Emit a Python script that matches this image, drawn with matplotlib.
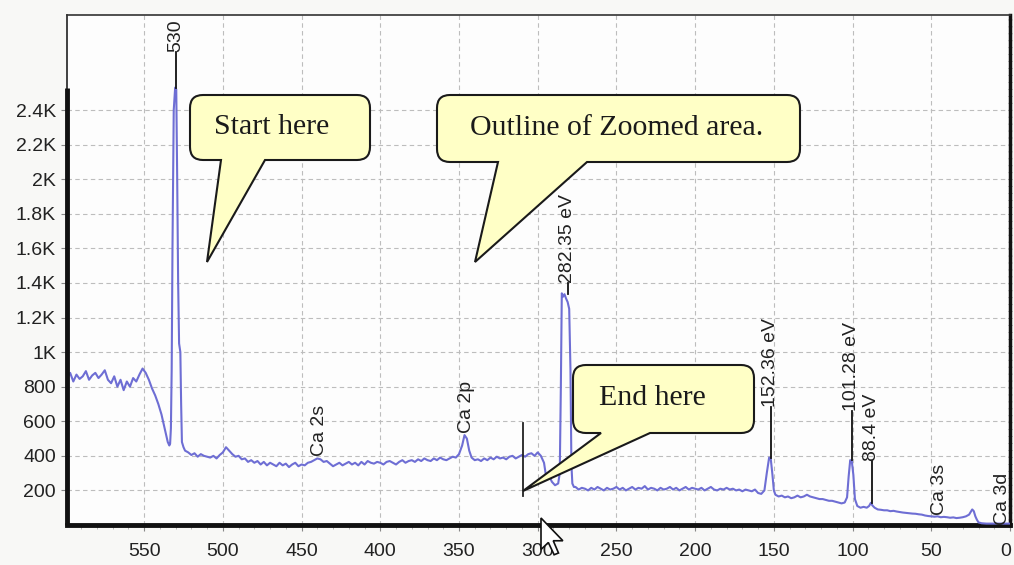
import matplotlib
matplotlib.use("Agg")
import matplotlib.pyplot as plt
from matplotlib.path import Path
from matplotlib.patches import PathPatch, Polygon
from matplotlib.transforms import IdentityTransform, ScaledTranslation

W, H = 1014, 565

# XPS survey spectrum, binding energy (eV) vs counts
energy = [599, 597, 595, 593, 591, 589, 587, 585, 583, 581, 579, 577, 575, 573, 571,
          569, 567, 565, 563, 561, 559, 557, 555, 553, 551, 549, 547, 545, 543, 541,
          539, 537, 536, 535, 534, 533.5, 533, 532.5, 532, 531.2, 530.3, 529.6, 529,
          528.4, 527.8, 527, 526.5, 526, 525, 524, 522, 520, 518, 516, 514, 512, 510,
          508, 506, 504, 502, 500, 498, 496, 494, 492, 490, 488, 486, 484, 482, 480,
          478, 476, 474, 472, 470, 468, 466, 464, 462, 460, 458, 456, 454, 452, 450,
          448, 446, 444, 442, 440, 438, 436, 434, 432, 430, 428, 426, 424, 422, 420,
          418, 416, 414, 412, 410, 408, 406, 404, 402, 400, 398, 396, 394, 392, 390,
          388, 386, 384, 382, 380, 378, 376, 374, 372, 370, 368, 366, 364, 362, 360,
          358, 356, 354, 352, 350, 348, 346.5, 345, 343.5, 342, 340, 338, 336, 334,
          332, 330, 328, 326, 324, 322, 320, 318, 316, 314, 312, 310, 308, 306, 304,
          302, 300, 298, 296, 295, 294, 293, 292, 291, 290, 289, 288, 287, 286, 285.3,
          284.7, 284, 283, 282, 281, 280, 279.2, 278.6, 278, 277, 276, 274, 272, 270,
          268, 266, 264, 262, 260, 258, 256, 254, 252, 250, 248, 246, 244, 242, 240,
          238, 236, 234, 232, 230, 228, 226, 224, 222, 220, 218, 216, 214, 212, 210,
          208, 206, 204, 202, 200, 198, 196, 194, 192, 190, 188, 186, 184, 182, 180,
          178, 176, 174, 172, 170, 168, 166, 164, 162, 160, 158, 156, 154.5, 153, 152,
          151, 150, 149, 147, 145, 143, 141, 139, 137, 135, 133, 131, 129, 127, 125,
          123, 121, 119, 117, 115, 113, 111, 109, 107, 105, 103.5, 102.5, 101.5, 100.5,
          99.5, 98.5, 97, 95, 93, 91, 89.5, 88.4, 87.3, 86, 84, 82, 80, 78, 76, 74, 72,
          70, 68, 66, 64, 62, 60, 58, 56, 54, 52, 50, 48, 46, 44, 42, 40, 38, 36, 34,
          32, 30, 28, 26, 25, 24, 23, 22, 21, 20, 18, 15, 10, 5, 0]
counts = [850, 880, 830, 870, 845, 860, 890, 840, 865, 880, 850, 870, 895, 840, 820,
          860, 800, 840, 780, 830, 800, 850, 830, 870, 905, 880, 840, 790, 750, 700,
          640, 560, 520, 480, 460, 470, 560, 900, 1600, 2400, 2530, 2520, 2000,
          1400, 1050, 1000, 700, 480, 450, 430, 420, 405, 415, 395, 410, 400, 395,
          390, 400, 385, 405, 420, 450, 430, 410, 395, 400, 380, 385, 365, 375, 360,
          370, 350, 365, 345, 360, 350, 340, 360, 345, 355, 335, 350, 360, 340, 350,
          345, 360, 365, 375, 385, 380, 365, 370, 355, 340, 350, 360, 345, 355, 365,
          350, 360, 345, 365, 350, 370, 360, 355, 365, 360, 350, 365, 370, 360, 350,
          365, 375, 360, 370, 375, 365, 380, 370, 385, 375, 370, 385, 375, 390, 380,
          375, 385, 395, 390, 410, 460, 520, 500, 430, 390, 375, 380, 370, 385,
          375, 390, 380, 395, 385, 390, 380, 395, 400, 385, 395, 405, 395, 410, 415,
          400, 420, 400, 360, 300, 280, 300, 270, 250, 240, 230, 235, 240, 300, 800,
          1340, 1320, 1335, 1310, 1290, 1250, 900, 350, 240, 220, 220, 205, 215, 210,
          200, 215, 205, 220, 210, 200, 215, 205, 210, 220, 205, 215, 200, 210, 220,
          205, 215, 210, 225, 205, 215, 210, 200, 215, 205, 210, 220, 205, 215, 200,
          210, 220, 205, 215, 210, 205, 215, 200, 210, 220, 205, 200, 210, 205, 215,
          205, 210, 200, 205, 195, 205, 200, 195, 205, 185, 180, 200, 300, 390, 385,
          300, 200, 175, 165, 170, 160, 165, 155, 160, 170, 160, 165, 175, 165, 160,
          155, 150, 150, 145, 140, 140, 135, 130, 125, 130, 160, 280, 375, 370,
          290, 150, 110, 100, 105, 100, 110, 128, 112, 100, 90, 88, 85, 85, 80, 82, 78,
          75, 72, 70, 68, 66, 65, 62, 60, 55, 52, 50, 48, 50, 45, 47, 45, 42, 44, 40,
          42, 45, 50, 60, 75, 90, 80, 50, 30, 15, 10, 8, 8, 8, 8]

# peak labels: (text, energy, text bottom in counts, top of the stem or None)
peak_labels = [("530", 529.9, 2735, 2525),
               ("282.35 eV", 280.9, 1400, 1335),
               ("Ca 2s", 438.5, 402, None),
               ("Ca 2p", 345.3, 530, None),
               ("152.36 eV", 151.9, 685, 390),
               ("101.28 eV", 100.5, 662, 375),
               ("88.4 eV", 87.8, 370, 128),
               ("Ca 3s", 44.5, 58, None),
               ("Ca 3d", 4.8, 2, None)]

xticks = [550, 500, 450, 400, 350, 300, 250, 200, 150, 100, 50, 0]
yticks = [200, 400, 600, 800, 1000, 1200, 1400, 1600, 1800, 2000, 2200, 2400]
ytick_labels = ["200", "400", "600", "800", "1K", "1.2K", "1.4K", "1.6K",
                "1.8K", "2K", "2.2K", "2.4K"]

fig = plt.figure(figsize=(W / 100, H / 100), dpi=100, facecolor="#f8f8f6")
ax = fig.add_axes([67 / W, 1 - 525 / H, (1010 - 67) / W, (525 - 15) / H])
ax.set_facecolor("#fdfdfd")

ax.plot(energy, counts, color="#6e6ed4", lw=1.5, zorder=3)
ax.set_xlim(599, 0)
ax.set_ylim(0, 2950)

ax.set_xticks(xticks)
ax.set_xticklabels([str(t) for t in xticks])
ax.set_xticks(list(range(590, 0, -10)), minor=True)
ax.set_yticks(yticks)
ax.set_yticklabels(ytick_labels)
ax.tick_params(axis="both", which="major", direction="out", length=4, width=0.8,
               color="#888888", labelsize=14, labelcolor="#222222")
ax.tick_params(axis="x", which="major", pad=9)
ax.tick_params(axis="y", which="major", pad=4)
ax.tick_params(axis="x", which="minor", direction="out", length=3, width=0.6,
               color="#aaaaaa")
for lab in ax.get_xticklabels() + ax.get_yticklabels():
    lab.set_fontfamily("Liberation Sans")
# the last label sits at the picture edge; nudge it inside
last = ax.get_xticklabels()[-1]
last.set_transform(last.get_transform() + ScaledTranslation(-4 / 100, 0, fig.dpi_scale_trans))

ax.grid(True, which="major", color="#bdbdbd", lw=0.8, ls=(0, (4, 3)))

ax.spines["top"].set_linewidth(1.2)
ax.spines["top"].set_color("#333333")
ax.spines["bottom"].set_linewidth(3.5)
ax.spines["bottom"].set_color("#111111")
ax.spines["left"].set_linewidth(1.2)
ax.spines["left"].set_color("#222222")
ax.spines["right"].set_linewidth(2.5)
ax.spines["right"].set_color("#111111")
ax.spines["right"].set_linestyle((0, (1.2, 0.8)))
# thick part of the left axis
ax.plot([599, 599], [0, 2525], color="#111111", lw=3.5, clip_on=False, zorder=5,
        solid_capstyle="butt")

# zoom outline marker
ax.plot([309.5, 309.5], [170, 590], color="#222222", lw=1.3, zorder=4)

for text, e, bottom, stem_top in peak_labels:
    if stem_top is not None:
        ax.plot([e, e], [stem_top, bottom], color="#111111", lw=1.3, zorder=4)
    ax.text(e, bottom, text, rotation=90, ha="center", va="bottom", fontsize=14,
            family="Liberation Sans", color="#222222", zorder=4, clip_on=False)


def bubble(x0, y0, x1, y1, base_a, base_b, tip, r=13):
    # speech balloon in pixel coordinates, y measured from the top
    pts = [((x0 + r, y0), Path.MOVETO), ((x1 - r, y0), Path.LINETO),
           ((x1, y0), Path.CURVE3), ((x1, y0 + r), Path.CURVE3),
           ((x1, y1 - r), Path.LINETO),
           ((x1, y1), Path.CURVE3), ((x1 - r, y1), Path.CURVE3),
           ((base_b, y1), Path.LINETO), (tip, Path.LINETO), ((base_a, y1), Path.LINETO),
           ((x0 + r, y1), Path.LINETO),
           ((x0, y1), Path.CURVE3), ((x0, y1 - r), Path.CURVE3),
           ((x0, y0 + r), Path.LINETO),
           ((x0, y0), Path.CURVE3), ((x0 + r, y0), Path.CURVE3),
           ((x0 + r, y0), Path.CLOSEPOLY)]
    verts = [(x, H - y) for (x, y), _ in pts]
    codes = [c for _, c in pts]
    patch = PathPatch(Path(verts, codes), facecolor="#ffffc6", edgecolor="#1a1a1a",
                      lw=1.5, transform=IdentityTransform(), zorder=10)
    fig.patches.append(patch)


def bubble_text(x, y, s):
    fig.text(x / W, 1 - y / H, s, ha="center", va="center", fontsize=21.5,
             family="Liberation Serif", color="#1a1a1a", zorder=11)


bubble(190, 95, 370, 160, 221, 265, (207, 262))
bubble_text(272, 127, "Start here")
bubble(437, 95, 800, 162, 498, 587, (475, 262))
bubble_text(617, 128, "Outline of Zoomed area.")
bubble(573, 365, 754, 433, 601, 650, (523, 491))
bubble_text(652, 398, "End here")

# mouse pointer
cur = [(0, 0), (0, 18), (4.2, 14), (7.5, 21), (10, 20), (7, 13), (12.5, 13)]
cur = [(541 + 1.75 * cx, H - (518 + 1.75 * cy)) for cx, cy in cur]
fig.patches.append(Polygon(cur, closed=True, facecolor="white", edgecolor="#111111",
                           lw=1.2, transform=IdentityTransform(), zorder=12))

fig.savefig("out.png", dpi=100, facecolor=fig.get_facecolor())
